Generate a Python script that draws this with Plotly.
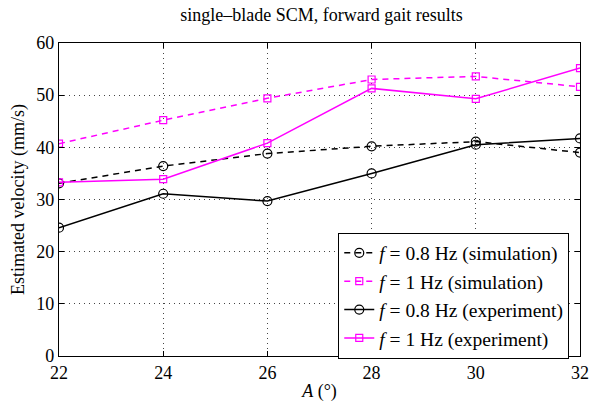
import plotly.graph_objects as go

A = [22, 24, 26, 28, 30, 32]
sim_08 = [33.1, 36.4, 38.8, 40.2, 41.1, 39.0]
sim_1 = [40.7, 45.2, 49.4, 53.0, 53.6, 51.6]
exp_08 = [24.6, 31.1, 29.7, 35.0, 40.5, 41.7]
exp_1 = [33.3, 33.9, 40.8, 51.3, 49.3, 55.2]

FONT = "Liberation Serif, Times New Roman, serif"
MAG = "#ff00ff"

fig = go.Figure()
series = [
    (sim_08, "<i>f</i> = 0.8 Hz (simulation)", "black", "6px,5px", "circle-open", 9),
    (sim_1, "<i>f</i> = 1 Hz (simulation)", MAG, "6px,5px", "square-open", 7),
    (exp_08, "<i>f</i> = 0.8 Hz (experiment)", "black", "solid", "circle-open", 9),
    (exp_1, "<i>f</i> = 1 Hz (experiment)", MAG, "solid", "square-open", 7),
]
for y, name, col, dash, sym, sz in series:
    fig.add_trace(go.Scatter(
        x=A, y=y, name=name, mode="lines+markers",
        line=dict(color=col, width=1.5, dash=dash),
        marker=dict(symbol=sym, size=sz, color=col, line=dict(width=1.2, color=col)),
    ))

axis_common = dict(
    showline=True, linecolor="black", linewidth=1.2, mirror="ticks",
    ticks="inside", ticklen=5, tickcolor="black",
    showgrid=True, gridcolor="#444444", griddash="1px,4px", gridwidth=1,
    zeroline=False, tickfont=dict(family=FONT, size=18, color="black"),
)
fig.update_xaxes(range=[22, 32], tickvals=A, **axis_common,
                 title=dict(text="<i>A</i> (°)", font=dict(family=FONT, size=18, color="black"), standoff=2))
fig.update_yaxes(range=[0, 60], tickvals=[0, 10, 20, 30, 40, 50, 60], **axis_common,
                 title=dict(text="Estimated velocity (mm/s)", font=dict(family=FONT, size=18, color="black"), standoff=6))

fig.update_layout(
    width=601, height=409,
    margin=dict(l=59, r=16, t=43, b=49),
    paper_bgcolor="white", plot_bgcolor="white",
    title=dict(text="single\u2013blade SCM, forward gait results", x=0.535, xanchor="center", y=0.965, yanchor="middle",
               font=dict(family=FONT, size=18, color="black")),
    font=dict(family=FONT, color="black"),
    legend=dict(x=0.536, y=0.394, xanchor="left", yanchor="top",
                bgcolor="white", bordercolor="black", borderwidth=1,
                font=dict(family=FONT, size=19.5, color="black"),
                tracegroupgap=0, itemwidth=30),
    showlegend=True,
)

fig.write_html("out.html")
